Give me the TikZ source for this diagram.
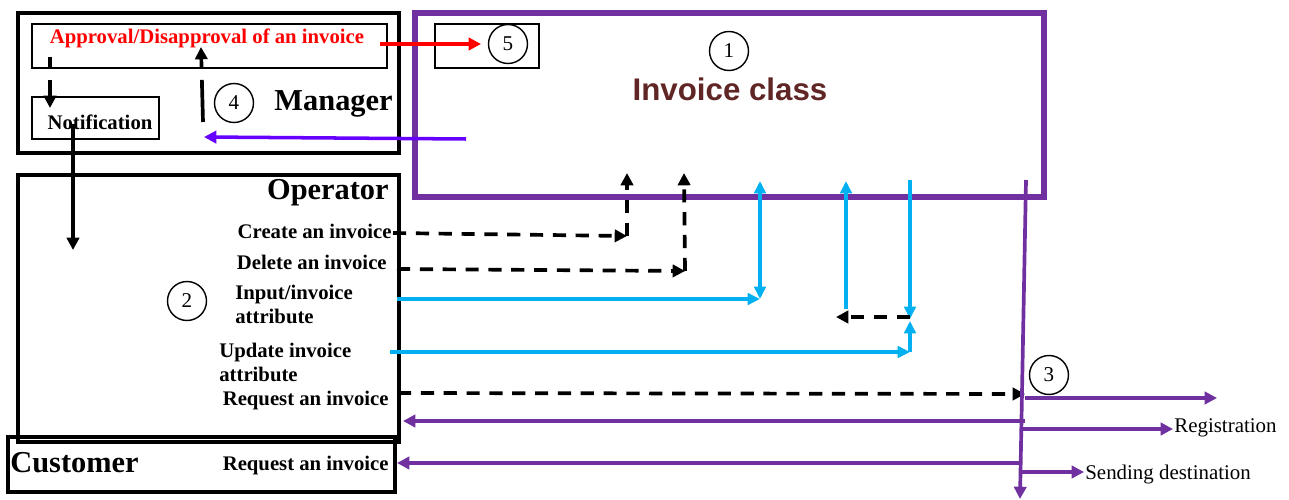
\documentclass[tikz,border=0pt]{standalone}
\usepackage{fontspec}
\setmainfont{Liberation Serif}
\newfontfamily\arialfont{Liberation Sans}
\usetikzlibrary{arrows.meta,fit}
\definecolor{ipurple}{RGB}{112,48,160}
\definecolor{iblue}{RGB}{0,176,240}
\definecolor{iviolet}{RGB}{102,0,255}
\definecolor{ibrown}{RGB}{96,38,38}
\definecolor{ired}{RGB}{255,0,0}
\tikzset{btip/.tip={Triangle[length=7pt,width=6.5pt]}}
\begin{document}
\begin{tikzpicture}[x=0.02cm,y=-0.02cm,
 thickbox/.style={draw, line width=2.2pt, inner sep=0pt},
 thinbox/.style={draw, line width=0.9pt, inner sep=0pt},
 classbox/.style={draw=ipurple, line width=3.4pt, inner sep=0pt},
 lab/.style={font=\fontsize{11.8}{13.6}\selectfont\bfseries, inner sep=0pt},
 plain/.style={font=\fontsize{11.9}{13.6}\selectfont, inner sep=0pt},
 big/.style={font=\fontsize{17.3}{20}\selectfont\bfseries, inner sep=0pt},
 num/.style={circle, draw, line width=0.8pt, minimum size=0.78cm, inner sep=0pt, font=\fontsize{12}{14}\selectfont},
 tip/.style={-{Triangle[length=7pt,width=7pt]}},
 dasharrow/.style={tip, line width=2.1pt, dash pattern=on 7.5pt off 5.5pt},
 blk/.style={tip, line width=1.9pt},
 bluearrow/.style={-btip, draw=iblue, line width=1.9pt},
 purplearrow/.style={tip, draw=ipurple, line width=2.1pt},
]
\useasboundingbox (0,0) rectangle (1289,500);

% ---------- boxes ----------
\node[classbox, fit={(415,13) (1044,197)}] (class) {};
\node[thinbox, fit={(435,24) (539,68)}] (box5) {};
\node[thickbox, fit={(18,13) (399,153)}] (manager) {};
\node[thinbox, fit={(32,24) (387,68)}] (apprbox) {};
\node[thinbox, fit={(32,97) (159,139)}] (notifbox) {};
\node[thickbox, fit={(18,175) (399,442)}] (operator) {};
\node[thickbox, fit={(8,437) (395,492)}] (customer) {};

% ---------- texts ----------
\node[lab, text=ired] (apprtxt) at (207,38) {Approval/Disapproval of an invoice};
\node[lab] (notiftxt) at (100,122) {Notification};
\node[big, anchor=east] (mgrtxt) at (393,104) {Manager};
\node[big, anchor=east] (optxt) at (389,193) {Operator};
\node[big, anchor=west] (custtxt) at (10,463) {Customer};
\node[font=\arialfont\fontsize{17.8}{20}\selectfont\bfseries, text=ibrown, inner sep=0pt] (classtxt) at (730,89) {Invoice class};

\node[lab, anchor=east] (create) at (392,231) {Create an invoice};
\node[lab, anchor=east] (delete) at (387,262) {Delete an invoice};
\node[lab, anchor=west, align=left] (input) at (235,304) {Input/invoice\\attribute};
\node[lab, anchor=west, align=left] (update) at (219,362) {Update invoice\\attribute};
\node[lab, anchor=east] (request) at (389,401) {Request an invoice};
\node[lab, anchor=east] (creq) at (389,466) {Request an invoice};
\node[plain, anchor=west] (regis) at (1174,428) {Registration};
\node[plain, anchor=west] (sending) at (1085,475) {Sending destination};

% ---------- numbers ----------
\node[num] (n1) at (729,51) {1};
\node[num] (n2) at (187,301) {2};
\node[num] (n3) at (1049,375) {3};
\node[num] (n4) at (234,103) {4};
\node[num] (n5) at (508,44) {5};

% ---------- connector end points ----------
\coordinate (redS) at (380,44);   \coordinate (redE) at (481,44);
\coordinate (aS) at (50,57);      \coordinate (aE) at (50,108);
\coordinate (bS) at (203,122);    \coordinate (bE) at (201,47);
\coordinate (vS) at (466,139);    \coordinate (vE) at (204,137);
\coordinate (nS) at (73,124);     \coordinate (nE) at (73,250);
\coordinate (cS) at (393,233);    \coordinate (cM) at (627,236);  \coordinate (cT) at (627,173);
\coordinate (dS) at (397,269);    \coordinate (dM) at (685,271);  \coordinate (dT) at (684,173);
\coordinate (iS) at (397,299);    \coordinate (iM) at (760,299);  \coordinate (iT) at (760,181);
\coordinate (kB) at (846,309);    \coordinate (kT) at (846,181);
\coordinate (mT) at (910,180);    \coordinate (mB) at (910,319);
\coordinate (eS) at (910,317);    \coordinate (eE) at (836,317);
\coordinate (uS) at (390,352);    \coordinate (uM) at (910,352);  \coordinate (uT) at (910,321);
\coordinate (rS) at (398,393);    \coordinate (rE) at (1025,394);
\coordinate (pT) at (1026,180);   \coordinate (pB) at (1020,499);
\coordinate (p1S) at (1025,398);  \coordinate (p1E) at (1217,398);
\coordinate (p2S) at (1025,421);  \coordinate (p2E) at (403,421);
\coordinate (p3S) at (1023,429);  \coordinate (p3E) at (1173,429);
\coordinate (p4S) at (1020,463);  \coordinate (p4E) at (397,463);
\coordinate (p5S) at (1019,472);  \coordinate (p5E) at (1084,472);

% ---------- connectors ----------
\draw[tip, draw=ired, line width=2pt] (redS) -- (redE);
\draw[tip, line width=2.1pt, dash pattern=on 7pt off 6pt on 30pt off 0pt] (aS) -- (aE);
\draw[tip, line width=2.1pt, dash pattern=on 24pt off 7pt on 30pt off 0pt] (bS) -- (bE);
\draw[tip, draw=iviolet, line width=2pt] (vS) -- (vE);
\draw[blk] (nS) -- (nE);

\draw[dasharrow] (cS) -- (cM);
\draw[dasharrow] (cM) -- (cT);
\draw[dasharrow] (dS) -- (dM);
\draw[dasharrow] (dM) -- (dT);

\draw[bluearrow] (iS) -- (iM);
\draw[bluearrow, btip-btip] (iM) -- (iT);
\draw[bluearrow] (kB) -- (kT);
\draw[bluearrow] (mT) -- (mB);
\draw[dasharrow] (eS) -- (eE);
\draw[bluearrow] (uS) -- (uM);
\draw[bluearrow] (uM) -- (uT);

\draw[dasharrow] (rS) -- (rE);
\draw[purplearrow] (pT) -- (pB);
\draw[purplearrow] (p1S) -- (p1E);
\draw[purplearrow] (p2S) -- (p2E);
\draw[purplearrow] (p3S) -- (p3E);
\draw[purplearrow] (p4S) -- (p4E);
\draw[purplearrow] (p5S) -- (p5E);
\end{tikzpicture}
\end{document}
